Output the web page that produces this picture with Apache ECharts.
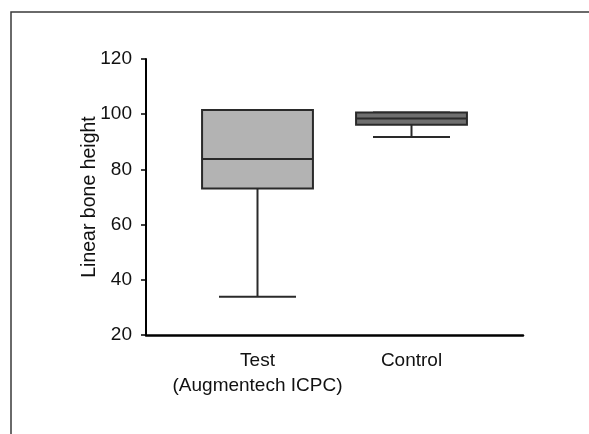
<!DOCTYPE html>
<html>
<head>
<meta charset="utf-8">
<script src="https://cdn.jsdelivr.net/npm/echarts@6/dist/echarts.min.js"></script>
<style>
html,body{margin:0;padding:0;background:#fff;}
#c{width:589px;height:434px;}
</style>
</head>
<body>
<div id="c"></div>
<script>
const categories = ['Test\n(Augmentech ICPC)', 'Control'];
const whiskerLow = [33.9, 91.7];
const q1 = [73.1, 96.2];
const median = [83.8, 98.4];
const q3 = [101.5, 100.6];
const whiskerHigh = [101.5, 100.6];
const yTicks = [20, 40, 60, 80, 100, 120];
const yName = 'Linear bone height';
const boxColors = ['#b3b3b3', '#6f6f6f'];

const data = categories.map((c, i) => [i, whiskerLow[i], q1[i], median[i], q3[i], whiskerHigh[i]]);

const FONT = 'Liberation Sans';
const chart = echarts.init(document.getElementById('c'), null, {renderer: 'canvas'});

function renderItem(params, api) {
  const idx = api.value(0);
  const band = api.size([1, 0])[0];
  const boxW = band * 0.72;
  const capW = band * 0.5;
  const pMin = api.coord([idx, api.value(1)]);
  const pQ1 = api.coord([idx, api.value(2)]);
  const pMed = api.coord([idx, api.value(3)]);
  const pQ3 = api.coord([idx, api.value(4)]);
  const pMax = api.coord([idx, api.value(5)]);
  const cx = pMed[0];
  const stroke = '#2a2a2a';
  const lw = 2;
  return {
    type: 'group',
    children: [
      {type: 'line', shape: {x1: cx, y1: pQ1[1], x2: cx, y2: pMin[1]}, style: {stroke: stroke, lineWidth: lw}},
      {type: 'line', shape: {x1: cx - capW / 2, y1: pMin[1], x2: cx + capW / 2, y2: pMin[1]}, style: {stroke: stroke, lineWidth: lw}},
      {type: 'line', shape: {x1: cx, y1: pQ3[1], x2: cx, y2: pMax[1]}, style: {stroke: stroke, lineWidth: lw}},
      {type: 'line', shape: {x1: cx - capW / 2, y1: pMax[1], x2: cx + capW / 2, y2: pMax[1]}, style: {stroke: stroke, lineWidth: lw}},
      {type: 'rect', shape: {x: cx - boxW / 2, y: pQ3[1], width: boxW, height: pQ1[1] - pQ3[1]},
        style: {fill: boxColors[idx], stroke: stroke, lineWidth: lw}},
      {type: 'line', shape: {x1: cx - boxW / 2, y1: pMed[1], x2: cx + boxW / 2, y2: pMed[1]}, style: {stroke: stroke, lineWidth: lw}}
    ]
  };
}

const option = {
  animation: false,
  backgroundColor: '#fff',
  graphic: [{
    type: 'rect', silent: true, z: -1,
    shape: {x: 11, y: 12, width: 640, height: 480},
    style: {fill: 'none', stroke: '#3a3a3a', lineWidth: 1.5}
  }],
  grid: [
    {left: 146, right: 66, top: 59, bottom: 99},
    {left: 180.5, right: 100.5, top: 59, bottom: 99}
  ],
  xAxis: [
    {gridIndex: 0, type: 'value', min: 0, max: 1, axisLine: {show: true, lineStyle: {color: '#000', width: 2.5}},
      axisTick: {show: false}, axisLabel: {show: false}, splitLine: {show: false}},
    {gridIndex: 1, type: 'category', data: categories, boundaryGap: true,
      axisLine: {show: false}, axisTick: {show: false}, splitLine: {show: false},
      axisLabel: {interval: 0, color: '#111', fontFamily: FONT, fontSize: 19, lineHeight: 25, margin: 13}}
  ],
  yAxis: [
    {gridIndex: 0, type: 'value', min: yTicks[0], max: yTicks[yTicks.length - 1], interval: 20,
      name: yName, nameLocation: 'middle', nameGap: 46, nameMoveOverlap: false,
      nameTextStyle: {color: '#111', fontFamily: FONT, fontSize: 19.5},
      axisLine: {show: true, lineStyle: {color: '#000', width: 2}},
      axisTick: {show: true, length: 5, lineStyle: {color: '#000', width: 1.5}},
      axisLabel: {color: '#111', fontFamily: FONT, fontSize: 19, margin: 14},
      splitLine: {show: false}},
    {gridIndex: 1, type: 'value', min: yTicks[0], max: yTicks[yTicks.length - 1], interval: 20, show: false,
      splitLine: {show: false}}
  ],
  series: [{
    type: 'custom',
    xAxisIndex: 1, yAxisIndex: 1,
    renderItem: renderItem,
    data: data,
    encode: {x: 0, y: [1, 2, 3, 4, 5]}
  }]
};
chart.setOption(option);
</script>
</body>
</html>
